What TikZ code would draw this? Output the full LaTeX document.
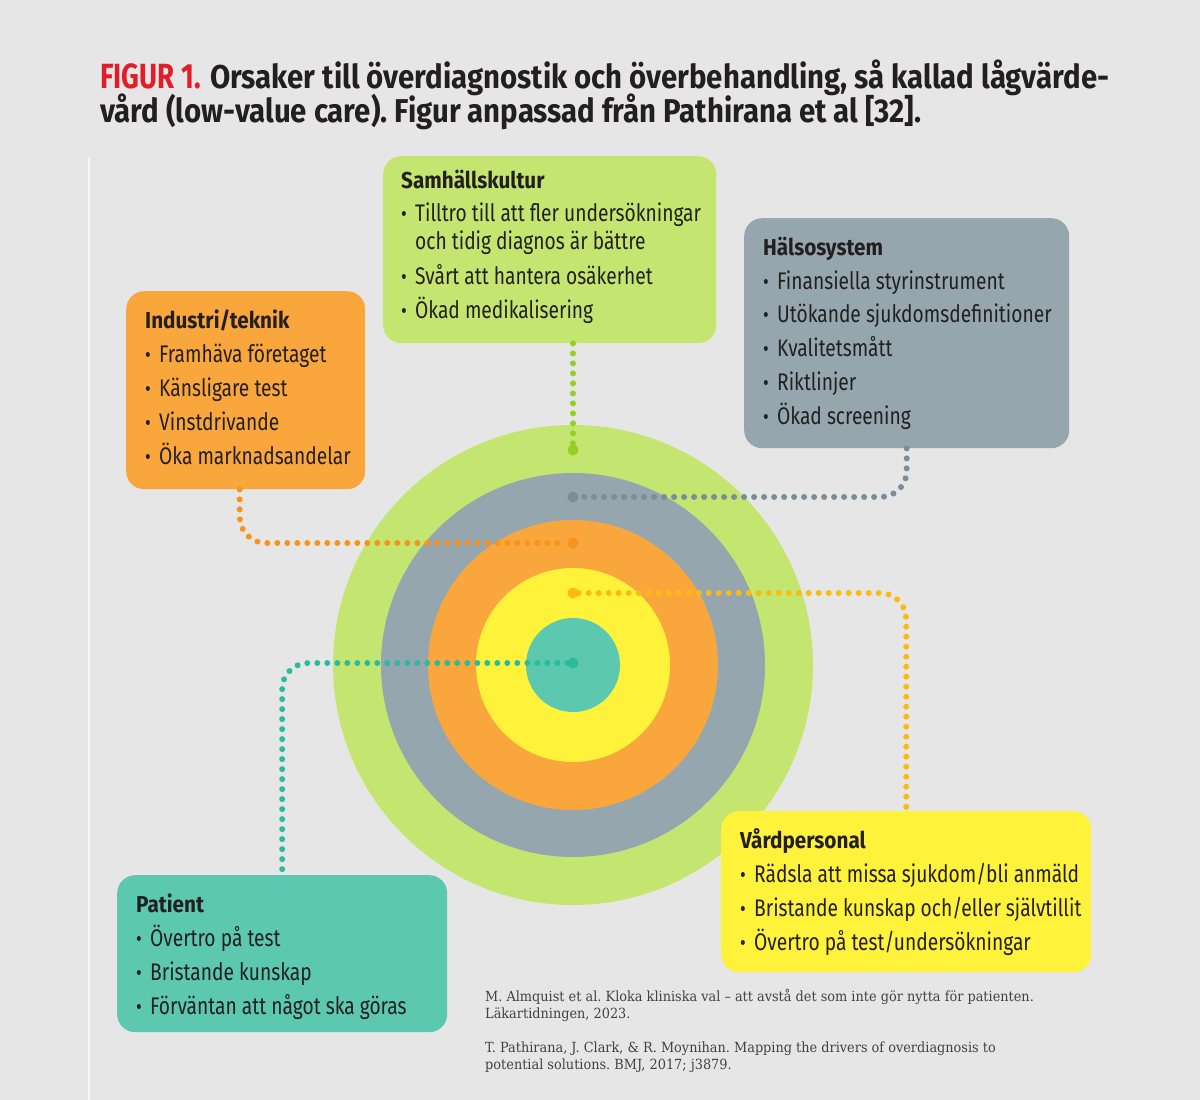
\documentclass[tikz,border=0pt]{standalone}
\usepackage{fontspec}
\newfontfamily\boxfont[FakeStretch=0.80]{Fira Sans}
\newfontfamily\headfont[FakeStretch=0.90]{Fira Sans}
\newfontfamily\titlefont[FakeStretch=0.89]{Fira Sans}
\newfontfamily\figfont[FakeStretch=0.79]{Fira Sans}
\newfontfamily\reffont[FakeStretch=0.92]{DejaVu Serif}
\frenchspacing

\definecolor{bg}{RGB}{230,230,230}
\definecolor{ink}{RGB}{35,31,32}
\definecolor{figred}{RGB}{225,30,40}
\definecolor{cgreen}{RGB}{196,230,112}
\definecolor{cgray}{RGB}{149,166,174}
\definecolor{corange}{RGB}{249,166,60}
\definecolor{cyellow}{RGB}{255,242,58}
\definecolor{cteal}{RGB}{92,200,176}
\definecolor{dgreen}{RGB}{146,208,38}
\definecolor{dgray}{RGB}{125,141,151}
\definecolor{dorange}{RGB}{247,148,30}
\definecolor{dyellow}{RGB}{253,187,18}
\definecolor{dteal}{RGB}{45,187,158}

\newcommand\bul{\makebox[14pt][l]{\fontsize{22}{22}\selectfont\raisebox{-0.5pt}{\textbullet}}}

\begin{document}
\begin{tikzpicture}%
	[x=1pt, y=-1pt,
	box/.style={rounded corners=18pt, inner sep=0pt, anchor=north west},
	ring/.style={circle, inner sep=0pt},
	enddot/.style={circle, inner sep=0pt, minimum size=11pt},
	dots/.style={line width=6pt, line cap=round, dash pattern=on 0pt off 10pt, rounded corners=26pt},
	head/.style={anchor=base west, inner sep=0pt, text=ink, font=\headfont\bfseries\fontsize{23}{23}\selectfont},
	item/.style={anchor=base west, inner sep=0pt, text=ink, font=\boxfont\fontsize{24}{24}\selectfont},
	ref/.style={anchor=base west, inner sep=0pt, text=ink!85, font=\reffont\fontsize{14}{14}\selectfont}]
%
%% Background and frame
%%
\useasboundingbox (0,0) rectangle (1200,1100);
\fill[bg] (0,0) rectangle (1200,1100);
\draw[white!60!bg, line width=1.2pt] (89,157) -- (89,1100);
%%
%% Title
%%
\node[anchor=base west, inner sep=0pt, text=figred, font=\figfont\bfseries\fontsize{35}{35}\selectfont] (fig) at (100,88) {FIGUR 1.};
\node[anchor=base west, inner sep=0pt, text=ink, font=\titlefont\bfseries\fontsize{33}{33}\selectfont] (title1) at (210,88) {Orsaker till överdiagnostik och överbehandling, så kallad lågvärde-};
\node[anchor=base west, inner sep=0pt, text=ink, font=\titlefont\bfseries\fontsize{33}{33}\selectfont] (title2) at (100,122) {vård (low-value care). Figur anpassad från Pathirana et al [32].};
%%
%% Rings
%%
\node[ring, fill=cgreen, minimum size=480pt] (ring5) at (573,665) {};
\node[ring, fill=cgray, minimum size=384pt] (ring4) at (573,665) {};
\node[ring, fill=corange, minimum size=290pt] (ring3) at (573,665) {};
\node[ring, fill=cyellow, minimum size=194pt] (ring2) at (573,665) {};
\node[ring, fill=cteal, minimum size=94pt] (ring1) at (573,665) {};
%%
%% Boxes
%%
\node[box, fill=cgreen, minimum width=333pt, minimum height=187pt] (samhalle) at (383,156) {};
\node[box, fill=cgray, minimum width=325pt, minimum height=230pt] (halso) at (744,218) {};
\node[box, fill=corange, minimum width=239pt, minimum height=198pt] (industri) at (126,291) {};
\node[box, fill=cteal, minimum width=330pt, minimum height=157pt] (patient) at (117,875) {};
\node[box, fill=cyellow, minimum width=370pt, minimum height=161pt] (vard) at (721,811) {};
%%
%% End dots on the rings
%%
\node[enddot, fill=dgreen] (greendot) at (573,450) {};
\node[enddot, fill=dgray] (graydot) at (573,497) {};
\node[enddot, fill=dorange] (orangedot) at (573,543) {};
\node[enddot, fill=dyellow] (yellowdot) at (573,593) {};
\node[enddot, fill=dteal] (tealdot) at (573,663) {};
\coordinate (indout) at ([xshift=-6pt]industri.south);
%%
%% Dotted connectors
%%
\draw[dots, draw=dgreen] (samhalle.south -| greendot) -- (greendot);
\draw[dots, draw=dgray] (halso.south) -- (halso.south |- graydot) -- (graydot);
\draw[dots, draw=dorange] (indout) -- (indout |- orangedot) -- (orangedot);
\draw[dots, draw=dyellow] (yellowdot) -- (yellowdot -| vard.north) -- (vard.north);
\draw[dots, draw=dteal] (tealdot) -- (tealdot -| patient.north) -- (patient.north);
%%
%% Box texts
%%
\node[head] (samhalle-h) at (401,188) {Samhällskultur};
\node[item] (samhalle-1) at (401,221) {\bul Tilltro till att fler undersökningar};
\node[item] (samhalle-1b) at (401,249) {\hspace*{14pt}och tidig diagnos är bättre};
\node[item] (samhalle-2) at (401,284) {\bul Svårt att hantera osäkerhet};
\node[item] (samhalle-3) at (401,318) {\bul Ökad medikalisering};
%
\node[head] (halso-h) at (763,255) {Hälsosystem};
\node[item] (halso-1) at (763,289) {\bul Finansiella styrinstrument};
\node[item] (halso-2) at (763,322) {\bul Utökande sjukdomsdefinitioner};
\node[item] (halso-3) at (763,356) {\bul Kvalitetsmått};
\node[item] (halso-4) at (763,390) {\bul Riktlinjer};
\node[item] (halso-5) at (763,424) {\bul Ökad screening};
%
\node[head] (industri-h) at (145,328) {Industri/teknik};
\node[item] (industri-1) at (145,362) {\bul Framhäva företaget};
\node[item] (industri-2) at (145,396) {\bul Känsligare test};
\node[item] (industri-3) at (145,430) {\bul Vinstdrivande};
\node[item] (industri-4) at (145,464) {\bul Öka marknadsandelar};
%
\node[head] (patient-h) at (136,912) {Patient};
\node[item] (patient-1) at (136,946) {\bul Övertro på test};
\node[item] (patient-2) at (136,980) {\bul Bristande kunskap};
\node[item] (patient-3) at (136,1014) {\bul Förväntan att något ska göras};
%
\node[head] (vard-h) at (740,848) {Vårdpersonal};
\node[item] (vard-1) at (740,882) {\bul Rädsla att missa sjukdom/bli anmäld};
\node[item] (vard-2) at (740,916) {\bul Bristande kunskap och/eller självtillit};
\node[item] (vard-3) at (740,950) {\bul Övertro på test/undersökningar};
%%
%% References
%%
\node[ref] (ref1a) at (485,1001) {M. Almquist et al. Kloka kliniska val – att avstå det som inte gör nytta för patienten.};
\node[ref] (ref1b) at (485,1018) {Läkartidningen, 2023.};
\node[ref] (ref2a) at (485,1052) {T. Pathirana, J. Clark, \& R. Moynihan. Mapping the drivers of overdiagnosis to};
\node[ref] (ref2b) at (485,1069) {potential solutions. BMJ, 2017; j3879.};
%%
\end{tikzpicture}
\end{document}
